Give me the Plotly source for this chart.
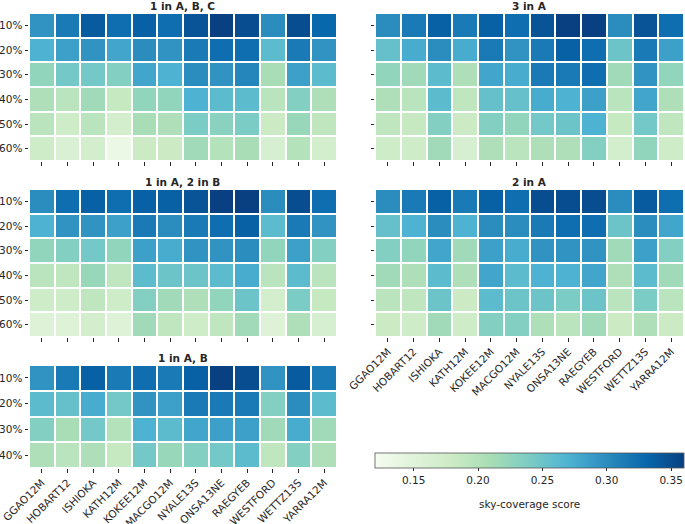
import plotly.graph_objects as go

stations = ["GGAO12M", "HOBART12", "ISHIOKA", "KATH12M", "KOKEE12M", "MACGO12M",
            "NYALE13S", "ONSA13NE", "RAEGYEB", "WESTFORD", "WETTZ13S", "YARRA12M"]
levels6 = ["10%", "20%", "30%", "40%", "50%", "60%"]
levels4 = ["10%", "20%", "30%", "40%"]

abc = [
    [0.295, 0.315, 0.340, 0.325, 0.335, 0.325, 0.345, 0.360, 0.350, 0.300, 0.350, 0.330],
    [0.270, 0.285, 0.295, 0.280, 0.300, 0.295, 0.315, 0.325, 0.325, 0.260, 0.315, 0.295],
    [0.225, 0.245, 0.245, 0.235, 0.280, 0.270, 0.300, 0.295, 0.305, 0.210, 0.285, 0.260],
    [0.205, 0.195, 0.215, 0.185, 0.225, 0.225, 0.270, 0.260, 0.260, 0.195, 0.235, 0.205],
    [0.195, 0.175, 0.195, 0.170, 0.210, 0.205, 0.240, 0.230, 0.240, 0.180, 0.220, 0.190],
    [0.175, 0.160, 0.170, 0.135, 0.180, 0.180, 0.215, 0.200, 0.210, 0.165, 0.200, 0.170],
]
a3 = [
    [0.300, 0.315, 0.335, 0.315, 0.335, 0.325, 0.345, 0.360, 0.360, 0.300, 0.345, 0.325],
    [0.255, 0.275, 0.300, 0.275, 0.315, 0.295, 0.315, 0.335, 0.325, 0.250, 0.315, 0.285],
    [0.225, 0.215, 0.260, 0.205, 0.280, 0.275, 0.315, 0.315, 0.325, 0.215, 0.295, 0.225],
    [0.205, 0.195, 0.260, 0.190, 0.255, 0.255, 0.275, 0.270, 0.285, 0.195, 0.280, 0.205],
    [0.190, 0.185, 0.235, 0.180, 0.235, 0.225, 0.245, 0.250, 0.270, 0.185, 0.245, 0.190],
    [0.175, 0.175, 0.215, 0.165, 0.205, 0.195, 0.205, 0.205, 0.235, 0.170, 0.225, 0.175],
]
a1b2 = [
    [0.300, 0.325, 0.335, 0.325, 0.335, 0.335, 0.345, 0.360, 0.360, 0.300, 0.350, 0.325],
    [0.270, 0.295, 0.295, 0.285, 0.315, 0.300, 0.315, 0.325, 0.335, 0.260, 0.315, 0.295],
    [0.225, 0.235, 0.245, 0.225, 0.285, 0.275, 0.295, 0.295, 0.300, 0.225, 0.285, 0.235],
    [0.195, 0.190, 0.220, 0.190, 0.260, 0.250, 0.250, 0.260, 0.275, 0.195, 0.260, 0.195],
    [0.175, 0.175, 0.190, 0.175, 0.235, 0.215, 0.205, 0.225, 0.250, 0.170, 0.240, 0.185],
    [0.155, 0.155, 0.170, 0.155, 0.215, 0.190, 0.175, 0.190, 0.215, 0.155, 0.205, 0.165],
]
a2 = [
    [0.300, 0.315, 0.335, 0.315, 0.335, 0.325, 0.350, 0.350, 0.350, 0.300, 0.340, 0.325],
    [0.255, 0.270, 0.300, 0.270, 0.300, 0.300, 0.315, 0.325, 0.325, 0.250, 0.300, 0.280],
    [0.235, 0.225, 0.280, 0.215, 0.285, 0.275, 0.295, 0.295, 0.295, 0.215, 0.285, 0.235],
    [0.215, 0.205, 0.260, 0.205, 0.280, 0.260, 0.270, 0.270, 0.280, 0.205, 0.260, 0.215],
    [0.195, 0.190, 0.250, 0.180, 0.260, 0.250, 0.250, 0.240, 0.250, 0.195, 0.240, 0.195],
    [0.180, 0.175, 0.215, 0.175, 0.235, 0.235, 0.205, 0.195, 0.215, 0.180, 0.205, 0.180],
]
ab = [
    [0.295, 0.315, 0.335, 0.315, 0.325, 0.315, 0.335, 0.360, 0.350, 0.295, 0.340, 0.315],
    [0.260, 0.255, 0.275, 0.245, 0.295, 0.285, 0.315, 0.315, 0.315, 0.235, 0.300, 0.260],
    [0.235, 0.210, 0.245, 0.200, 0.270, 0.260, 0.280, 0.285, 0.285, 0.215, 0.275, 0.215],
    [0.205, 0.195, 0.205, 0.185, 0.245, 0.220, 0.235, 0.245, 0.260, 0.190, 0.235, 0.205],
]

W, H = 685, 524
TXT = "#262626"
FONT = "DejaVu Sans"

def xd(a, b):
    return [a / W, b / W]

def yd(top, bot):
    return [1 - bot / H, 1 - top / H]

panels = [
    ("1 in A, B, C", abc, levels6, xd(29, 337), yd(13, 161), True, False),
    ("3 in A", a3, levels6, xd(375, 684), yd(13, 161), False, False),
    ("1 in A, 2 in B", a1b2, levels6, xd(29, 337), yd(189, 337), True, False),
    ("2 in A", a2, levels6, xd(375, 684), yd(189, 337), False, True),
    ("1 in A, B", ab, levels4, xd(29, 337), yd(365, 468), True, True),
]

fig = go.Figure()
annotations = []
for i, (title, z, ylabels, xdom, ydom, showy, showx) in enumerate(panels):
    n = "" if i == 0 else str(i + 1)
    fig.add_trace(go.Heatmap(
        z=z, x=stations, y=ylabels, coloraxis="coloraxis",
        xgap=2, ygap=2, xaxis="x" + n, yaxis="y" + n,
        hovertemplate="%{x} %{y}: %{z}<extra></extra>"))
    fig.layout["xaxis" + n] = dict(
        domain=xdom, anchor="y" + n, showgrid=False, zeroline=False,
        automargin=False,
        ticks="outside", ticklen=3.5, tickwidth=0.8, tickcolor=TXT,
        showticklabels=showx, tickangle=-45,
        tickfont=dict(family=FONT, size=10.5, color=TXT), showline=False)
    fig.layout["yaxis" + n] = dict(
        domain=ydom, anchor="x" + n, showgrid=False, zeroline=False,
        automargin=False,
        autorange="reversed", ticks="outside", ticklen=3.5, tickwidth=0.8,
        tickcolor=TXT, showticklabels=showy,
        tickfont=dict(family=FONT, size=10.5, color=TXT), showline=False)
    annotations.append(dict(
        text="<b>" + title + "</b>", x=(xdom[0] + xdom[1]) / 2, y=ydom[1],
        xref="paper", yref="paper", xanchor="center", yanchor="bottom",
        yshift=-1, showarrow=False,
        font=dict(family=FONT, size=10.5, color=TXT)))

annotations.append(dict(
    text="sky-coverage score", x=529.5 / W, y=1 - 504 / H,
    xref="paper", yref="paper", xanchor="center", yanchor="middle",
    showarrow=False, font=dict(family=FONT, size=10.5, color=TXT)))

fig.update_layout(
    width=W, height=H,
    margin=dict(l=0, r=0, t=0, b=0, autoexpand=False),
    paper_bgcolor="white", plot_bgcolor="white",
    font=dict(family=FONT, color=TXT),
    annotations=annotations,
    coloraxis=dict(
        colorscale="GnBu", cmin=0.12, cmax=0.36,
        colorbar=dict(
            orientation="h", x=529.5 / W, xanchor="center",
            y=1 - 453 / H, yanchor="top",
            len=309 / W, lenmode="fraction", thickness=15,
            xpad=0, ypad=0,
            outlinewidth=0.8, outlinecolor="#555555",
            tickvals=[0.15, 0.20, 0.25, 0.30, 0.35],
            ticktext=["0.15", "0.20", "0.25", "0.30", "0.35"],
            ticks="outside", ticklen=3.5, tickcolor=TXT,
            tickfont=dict(family=FONT, size=10.5, color=TXT),
        ),
    ),
)

fig.write_html("out.html",
               config={"displayModeBar": False},
               post_script="document.body.style.margin='0px';"
                           "document.body.style.overflow='hidden';")
